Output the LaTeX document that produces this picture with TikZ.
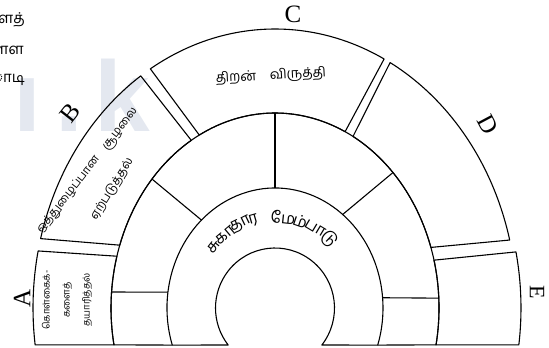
\documentclass[tikz,border=0pt]{standalone}
\usepackage{fontspec}
\setmainfont{Liberation Serif}
\newfontfamily\tamilfont[Script=Tamil]{Hind Madurai}
\newfontfamily\wmfont{Liberation Sans}
\definecolor{wmark}{RGB}{228,232,240}

\tikzset{
  ring/.style={line width=1.1pt, line join=round},
  letter/.style={font=\fontsize{25}{25}\selectfont, inner sep=0pt},
  tamiltext/.style={font=\tamilfont\fontsize{12}{13}\selectfont, inner sep=0pt},
  syl/.style={font=\tamilfont\fontsize{16}{16}\selectfont, inner sep=0pt},
}

\begin{document}
\begin{tikzpicture}[x=1pt,y=1pt]
    \useasboundingbox (0,0) rectangle (549,348);

    % Watermark
    \node[anchor=base west, inner sep=0pt, text=wmark, font=\wmfont\bfseries\fontsize{100}{100}\selectfont] (wm) at (13,216) {ı\kern14pt.\kern12pt k};

    % Cut-off text on the left
    \node[tamiltext, font=\tamilfont\fontsize{15}{15}\selectfont, anchor=east] (side1) at (25,328) {ளத்};
    \node[tamiltext, font=\tamilfont\fontsize{15}{15}\selectfont, anchor=east] (side2) at (24,298) {ளள};
    \node[tamiltext, font=\tamilfont\fontsize{15}{15}\selectfont, anchor=east] (side3) at (25,269) {ாடி};

    \begin{scope}[shift={(275,40)}, ring]
        % Inner ring
        \draw (-38.1:59.5 and 60) arc[start angle=-38.1, end angle=218.1, x radius=59.5, y radius=60]
            -- (198:108 and 120) arc[start angle=198, end angle=-18, x radius=108, y radius=120] -- cycle;

        % Middle ring
        \draw (-18:108 and 120) -- (-10.9:164 and 195)
            arc[start angle=-10.9, end angle=190.9, x radius=164, y radius=195] -- (198:108 and 120);
        \draw (4.9:108 and 120) -- (2.9:164 and 195);
        \draw (51.2:108 and 120) -- (44:164 and 195);
        \draw (90:108 and 120) -- (90:164 and 195);
        \draw (132.9:108 and 120) -- (138.6:164 and 195);
        \draw (172.4:108 and 120) -- (175.3:164 and 195);

        % Outer boxes A to E
        \draw (187.6:242 and 279) arc[start angle=187.6, end angle=168.2, x radius=242, y radius=279]
            -- (164.6:164 and 195) arc[start angle=164.6, end angle=190.9, x radius=164, y radius=195] -- cycle;
        \draw (161.2:164 and 195) -- (165.6:242 and 279) arc[start angle=165.6, end angle=123.7, x radius=242, y radius=279]
            -- (120.7:164 and 195) arc[start angle=120.7, end angle=161.2, x radius=164, y radius=195] -- cycle;
        \draw (117.5:164 and 195) -- (121:242 and 279) arc[start angle=121, end angle=63.2, x radius=242, y radius=279]
            -- (64.7:164 and 195) arc[start angle=64.7, end angle=117.5, x radius=164, y radius=195] -- cycle;
        \draw (61.6:164 and 195) -- (61.6:242 and 279) arc[start angle=61.6, end angle=14.1, x radius=242, y radius=279]
            -- (18.1:164 and 195) arc[start angle=18.1, end angle=61.6, x radius=164, y radius=195] -- cycle;
        \draw (14.2:164 and 195) -- (11.6:246 and 279) arc[start angle=11.6, end angle=-7.6, x radius=246, y radius=279]
            -- (-10.9:164 and 195) arc[start angle=-10.9, end angle=14.2, x radius=164, y radius=195] -- cycle;
    \end{scope}

    % Curved title of the inner ring
    \begin{scope}[shift={(275,53)}]
        \node[syl, rotate=52] (h1) at (142:78) {சு};
        \node[syl, rotate=40] (h2) at (130:78) {கா};
        \node[syl, rotate=26] (h3) at (116:78) {தா};
        \node[syl, rotate=16] (h4) at (106:78) {ர};
        \node[syl, rotate=-6] (h5) at (84:78) {மே};
        \node[syl, rotate=-19] (h6) at (71:78) {ம்};
        \node[syl, rotate=-31] (h7) at (59:78) {பா};
        \node[syl, rotate=-44] (h8) at (46:78) {டு};
    \end{scope}

    % Box texts
    \node[tamiltext, font=\tamilfont\fontsize{13.5}{14}\selectfont, rotate=3] (ctext) at (271,272) {திறன்\enspace\enspace விருத்தி};
    \node[tamiltext, font=\tamilfont\fontsize{11.5}{12}\selectfont, rotate=52] (bline1) at (88,177) {ஒத்துழைப்பான\enspace\enspace சூழலை};
    \node[tamiltext, rotate=58] (bline2) at (112,159) {ஏற்படுத்தல்};
    \node[tamiltext, font=\tamilfont\fontsize{9.5}{20}\selectfont, rotate=90, align=center] (atext) at (67,48) {கொள்கைக்-\\களைத்\\தயாரித்தல்};

    % Letters
    \node[letter, rotate=90] (la) at (22,50) {A};
    \node[letter, rotate=52] (lb) at (70,235) {B};
    \node[letter] (lc) at (293,334) {C};
    \node[letter, rotate=-62] (ld) at (488,223) {D};
    \node[letter, font=\fontsize{22}{22}\selectfont, rotate=-90] (le) at (537,56) {E};
\end{tikzpicture}
\end{document}
